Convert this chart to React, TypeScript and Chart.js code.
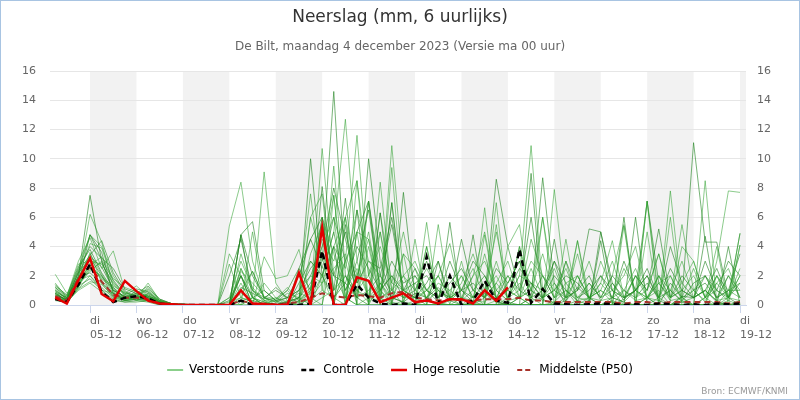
import React, { useEffect, useRef } from 'react';
import { Chart, registerables } from 'chart.js';

Chart.register(...registerables);

// ---- axis categories ----
const dayNames = ['di', 'wo', 'do', 'vr', 'za', 'zo', 'ma', 'di', 'wo', 'do', 'vr', 'za', 'zo', 'ma', 'di'];
const dayDates = ['05-12', '06-12', '07-12', '08-12', '09-12', '10-12', '11-12', '12-12', '13-12', '14-12', '15-12', '16-12', '17-12', '18-12', '19-12'];
const yTicks = [0, 2, 4, 6, 8, 10, 12, 14, 16];
const firstHour = 6; // first value: 04-12 06 uur (hours since 04-12 00 uur)
const stepHours = 6;

// ---- series (mm per 6 uur) ----
const hogeResolutie = [0.5, 0.1, 1.7, 3.2, 0.75, 0.25, 1.65, 0.95, 0.3, 0.1, 0.05, 0, 0, 0, 0, 0, 1.0, 0.1, 0.05, 0, 0, 2.2, 0, 5.3, 0, 0, 1.9, 1.65, 0.2, 0.5, 0.8, 0.2, 0.3, 0.1, 0.4, 0.4, 0.1, 1.0, 0.3, 1.2];
const controle = [0.4, 0.2, 1.4, 2.8, 0.9, 0.2, 0.5, 0.6, 0.45, 0.1, 0, 0, 0, 0, 0, 0, 0.3, 0, 0, 0, 0, 0, 0.1, 3.7, 0, 0, 1.4, 0.5, 0.1, 0, 0.1, 0, 3.3, 0.05, 2.0, 0, 0.3, 1.65, 0.3, 0.15, 3.8, 0.15, 1.1, 0.1, 0.05, 0, 0.05, 0.1, 0.05, 0, 0.05, 0, 0.1, 0.05, 0, 0.05, 0, 0.1, 0.05, 0.1];
const middelste = [0.6, 0.3, 1.8, 2.6, 1.6, 0.7, 0.5, 0.5, 0.4, 0.1, 0.05, 0, 0, 0, 0, 0, 0.3, 0.1, 0.1, 0.05, 0.1, 0.2, 0.5, 0.8, 0.6, 0.5, 0.7, 0.6, 0.5, 0.8, 0.9, 0.5, 0.4, 0.3, 0.4, 0.3, 0.3, 0.4, 0.4, 0.4, 0.5, 0.3, 0.3, 0.2, 0.2, 0.2, 0.2, 0.2, 0.2, 0.1, 0.2, 0.2, 0.1, 0.2, 0.2, 0.2, 0.2, 0.2, 0.1, 0.2];

const m01 = [0.8, 0.3, 2.0, 7.5, 3.0, 1.0, 0.6, 0.8, 0.5, 0.2, 0.1, 0, 0, 0, 0, 0, 0.3, 0.1, 0, 0, 0.2, 0.5, 1.5, 3.0, 14.6, 2.0, 0.5, 1.0, 2.0, 0.5, 0.2, 0.8, 0.5, 1.2, 0.3, 0, 0.2, 0.8, 0.2, 0, 0.5, 1.5, 0.4, 0, 0.3, 1.2, 0.5, 0, 0, 0.4, 1.0, 2.0, 0.3, 0, 0.6, 0.5, 1.0, 0.2, 0, 0];
const m02 = [0.5, 0.2, 1.8, 6.2, 4.3, 1.2, 0.5, 0.6, 0.4, 0.1, 0, 0, 0, 0, 0, 0, 0, 0.5, 9.1, 1.5, 0.3, 0, 0.5, 2.0, 5.0, 12.7, 3.0, 0.5, 1.0, 0.2, 0, 0.3, 1.0, 0.2, 0, 0, 0, 0.5, 1.5, 3.0, 0.5, 0, 0, 0.2, 0, 0, 0, 0, 0, 1.0, 2.5, 0.5, 0, 0, 0.3, 1.0, 0.2, 0, 0.5, 2.0];
const m03 = [1.0, 0.5, 2.5, 4.8, 4.0, 2.0, 0.8, 0.5, 1.5, 0.3, 0.1, 0, 0, 0, 0, 5.4, 8.4, 3.0, 0.5, 0.2, 0, 0, 0, 0.5, 1.0, 3.0, 11.6, 2.0, 0.5, 0, 0.3, 1.5, 0.5, 0, 0, 0, 0.6, 0, 0, 0.5, 2.0, 10.9, 1.0, 0, 0, 0, 0.5, 1.0, 0.2, 0, 0, 0, 0.5, 2.0, 0.3, 0, 0, 0, 1.0, 0.5];
const m04 = [0.6, 0.2, 1.5, 4.8, 3.6, 0.8, 0.3, 0.4, 0.3, 0.1, 0, 0, 0, 0, 0, 0, 4.8, 5.7, 1.0, 0.3, 0.5, 0.2, 10.0, 2.0, 0.5, 1.5, 0.5, 10.0, 3.0, 0.5, 0.2, 0, 0.5, 0, 0.3, 1.0, 0.2, 0, 0, 0, 0, 0.5, 8.7, 1.5, 0, 0, 0, 0, 0.5, 0.2, 0, 0, 0, 1.5, 0.5, 11.1, 4.3, 4.3, 0.5, 0];
const m05 = [1.2, 0.6, 3.0, 4.6, 2.5, 3.7, 1.0, 0.3, 0.8, 0.2, 0, 0, 0, 0, 0, 3.5, 2.0, 0.5, 0.2, 0, 0, 0, 0.5, 10.7, 2.0, 0.5, 1.0, 0.2, 8.4, 1.0, 0, 0, 0, 5.5, 0.5, 0, 0, 0, 0.3, 0, 0, 0.5, 0, 7.9, 1.0, 0, 0, 0, 0.2, 0, 0, 0.5, 1.0, 0, 0, 0, 0, 2.0, 0.5, 4.9];
const m06 = [0.4, 0.1, 1.2, 3.6, 1.5, 0.5, 0.3, 0.5, 0.6, 0.2, 0, 0, 0, 0, 0, 0, 2.5, 0.5, 0, 0, 0, 1.0, 7.6, 1.0, 9.5, 0.5, 0, 0.5, 0.3, 10.9, 2.0, 0, 0.3, 0, 0, 0, 0, 4.8, 0.5, 0, 0, 0, 0, 0, 0.5, 4.4, 0.5, 0, 0, 0, 0, 7.1, 0.5, 0, 0, 0, 0.5, 0, 0.3, 0];
const m07 = [0.7, 0.4, 2.2, 3.2, 2.0, 0.6, 0.4, 1.0, 0.5, 0.1, 0, 0, 0, 0, 0, 0, 4.8, 0.5, 0, 0, 0, 0, 0, 8.1, 1.0, 7.3, 0.5, 0, 0, 0, 7.7, 0.5, 0, 0, 0, 0, 0, 0, 0, 0.2, 0, 0, 0, 0, 0, 0, 0, 5.0, 1.0, 0, 6.0, 0, 0, 0, 0, 0, 4.7, 0, 0, 0.3];
const m08 = [2.1, 0.8, 1.6, 2.8, 1.8, 1.2, 0.5, 0.6, 1.2, 0.3, 0.1, 0, 0, 0, 0, 0, 0, 5.0, 0.3, 0, 0.2, 0, 6.0, 7.6, 0.5, 0, 8.5, 0.2, 1.0, 0, 0, 0, 5.65, 0, 0, 0, 0, 6.65, 0, 0, 0.5, 0, 0, 0, 0, 0, 0, 0, 0.3, 0, 0, 0, 0, 7.8, 0.5, 0, 0.5, 4.0, 0, 0];
const m09 = [0.5, 0.3, 1.4, 2.5, 2.0, 1.0, 0.6, 0.3, 0.4, 0.1, 0, 0, 0, 0, 0, 0, 1.5, 0, 3.3, 1.8, 2.0, 3.8, 0.5, 0, 7.5, 0.5, 0, 7.1, 0.5, 0, 0, 0, 0, 0, 0, 0.5, 0, 0, 7.0, 0, 0, 0, 0, 0, 0, 0.3, 0, 0, 0, 5.4, 0, 0, 0, 0, 0.5, 0, 8.5, 0.2, 0, 0];
const m10 = [0.9, 0.5, 1.9, 2.2, 1.5, 0.8, 0.4, 0.5, 0.7, 0.2, 0, 0, 0, 0, 0, 0.3, 2.0, 0, 0, 0, 0, 2.5, 4.5, 6.0, 0, 5.5, 0, 0, 6.3, 0, 0, 0, 0, 0, 5.65, 0, 0, 0, 0, 0, 0, 9.0, 0, 0, 0, 0, 0, 4.4, 0, 0, 0, 0.5, 0, 0, 0.2, 0, 0, 0, 0, 0];
const m11 = [0.3, 0.2, 1.1, 2.0, 1.2, 0.5, 0.3, 0.4, 0.3, 0.2, 0, 0, 0, 0, 0, 2.8, 0.5, 2.3, 0.5, 0, 0, 0, 3.5, 5.5, 0, 6.0, 0, 0, 0, 9.4, 0, 0, 0, 0, 0, 0, 0, 0, 0, 4.0, 5.5, 0, 0, 0, 4.5, 0, 0, 0, 0, 0, 0, 0, 0, 0, 0, 0, 0, 3.0, 7.8, 7.7];
const m12 = [0.6, 0.4, 1.7, 2.0, 1.0, 0.8, 0.5, 0.8, 1.0, 0.3, 0, 0, 0, 0, 0, 0, 0.5, 0.2, 1.5, 0.5, 0, 0, 1.0, 4.0, 6.0, 0, 5.0, 0, 5.0, 0, 0, 4.5, 0, 0, 0, 3.0, 0, 0, 0, 0, 0, 0, 6.0, 0, 3.0, 0, 0, 0, 0, 0, 0, 5.0, 0, 0, 0, 0, 0, 0, 0, 4.1];
const m13 = [0.8, 0.3, 1.3, 1.8, 1.0, 0.4, 0.2, 0.3, 0.2, 0, 0, 0, 0, 0, 0, 0, 2.0, 0, 0, 0, 0, 0, 0, 0, 4.0, 0, 6.5, 0, 0, 7.0, 0, 0, 0, 3.0, 0, 0, 4.8, 0, 0, 0, 0, 0, 0, 4.5, 0, 0, 0, 0, 0, 6.0, 0, 0, 0, 0, 0, 0, 0, 0, 4.0, 0];
const m14 = [1.5, 0.5, 2.8, 3.0, 2.8, 1.5, 0.8, 1.3, 0.6, 0.2, 0, 0, 0, 0, 0, 0, 0, 0, 0, 0, 0, 0.5, 0, 0, 0, 0, 5.0, 4.5, 0, 0, 3.5, 0, 4.0, 0, 0, 0, 0, 0, 5.5, 0, 4.0, 0, 0, 0, 0, 4.4, 0, 0, 0, 0, 0, 0, 0, 6.0, 0, 0, 0, 0, 0, 0];
const m15 = [0.4, 0.2, 1.0, 1.5, 0.9, 0.3, 0.2, 0.2, 0.3, 0, 0, 0, 0, 0, 0, 0, 0, 0, 0, 0, 0, 0, 0, 2.0, 0, 3.0, 0, 0, 1.5, 0, 0, 0, 0, 0, 0, 0, 0, 0, 0, 0, 0, 0, 0, 0, 0, 0, 0, 0, 0, 0, 0, 7.1, 0, 0, 0, 0, 0, 0, 0, 0];
const m16 = [1.1, 0.4, 2.3, 3.4, 4.4, 2.2, 0.9, 0.6, 1.1, 0.4, 0.1, 0.1, 0, 0, 0, 0, 1.2, 0.8, 0.4, 1.2, 0.5, 1.0, 2.5, 3.5, 2.0, 1.5, 4.0, 2.5, 1.0, 3.0, 1.5, 2.0, 1.0, 0.5, 1.5, 2.5, 1.0, 2.0, 0.5, 1.0, 2.5, 1.5, 0.5, 2.0, 1.0, 0.3, 1.5, 0.5, 2.0, 1.0, 0.5, 1.5, 0.5, 2.5, 1.0, 0.5, 3.0, 1.0, 0.5, 1.5];
const m17 = [0.7, 0.3, 1.6, 2.7, 3.3, 1.8, 1.2, 0.9, 0.6, 0.3, 0.1, 0, 0, 0, 0, 0, 2.3, 1.5, 0.6, 0.4, 1.0, 0.3, 1.2, 4.5, 3.0, 6.0, 2.0, 4.5, 1.5, 0.5, 2.0, 1.0, 2.5, 1.0, 0.3, 1.5, 3.5, 1.0, 2.0, 0.5, 1.0, 3.0, 2.0, 1.0, 2.5, 0.5, 0.3, 3.0, 1.0, 0.5, 2.0, 1.0, 3.5, 0.5, 1.0, 2.0, 0.5, 1.5, 2.5, 0.5];
const m18 = [0.9, 0.2, 1.3, 2.4, 2.9, 1.4, 0.7, 0.5, 0.4, 0.2, 0, 0, 0, 0, 0, 0.5, 3.0, 1.2, 0.3, 0.2, 0.8, 0.5, 2.0, 1.5, 4.0, 2.5, 6.5, 3.0, 2.0, 1.0, 0.5, 2.0, 0.5, 1.5, 1.0, 0.3, 2.0, 3.0, 1.0, 2.0, 0.5, 1.0, 3.5, 0.5, 1.5, 2.0, 0.5, 1.0, 0.5, 2.5, 1.0, 0.3, 2.0, 1.0, 3.0, 0.5, 1.0, 0.3, 2.0, 1.0];
const m19 = [1.3, 0.7, 2.6, 3.8, 2.2, 1.0, 0.5, 0.7, 0.9, 0.2, 0, 0, 0, 0, 0, 0, 2.0, 0.5, 1.0, 0.3, 0, 1.5, 3.0, 2.0, 5.0, 1.0, 3.0, 6.5, 1.0, 2.0, 0.5, 1.0, 3.0, 0.5, 2.0, 1.0, 0.5, 1.5, 0.3, 1.5, 3.0, 0.5, 1.0, 3.0, 0.5, 1.0, 2.0, 0.3, 1.5, 0.5, 1.0, 2.0, 0.5, 1.0, 0.3, 1.5, 2.0, 0.5, 1.0, 3.5];
const m20 = [0.5, 0.3, 1.2, 2.9, 1.7, 0.7, 0.4, 0.4, 0.5, 0.1, 0, 0, 0, 0, 0, 0.2, 0.5, 0.3, 0.1, 0, 0.3, 0.8, 0.5, 1.5, 2.5, 3.5, 1.0, 2.0, 4.0, 1.5, 1.0, 0.5, 1.0, 2.0, 0.5, 0.3, 1.0, 0.5, 1.5, 0.5, 1.5, 0.3, 0.5, 1.0, 0.3, 2.0, 0.5, 1.5, 0.5, 1.0, 0.3, 0.5, 1.5, 0.3, 0.5, 1.0, 0.3, 1.5, 0.5, 2.0];
const m21 = [0.8, 0.5, 2.0, 4.2, 3.9, 1.6, 0.6, 0.5, 0.8, 0.3, 0, 0, 0, 0, 0, 0, 3.5, 1.0, 0.2, 0, 0, 0.3, 1.0, 6.0, 3.5, 1.0, 2.5, 0.5, 6.3, 1.5, 5.0, 1.0, 0.5, 2.0, 4.2, 0.5, 2.0, 5.0, 1.0, 0.3, 4.0, 1.0, 6.0, 1.0, 0.5, 3.5, 0.3, 1.5, 4.4, 0.5, 1.0, 0.5, 2.0, 0.3, 4.0, 3.0, 0.5, 1.0, 0.3, 4.1];
const m22 = [1.0, 0.4, 1.9, 3.3, 2.6, 1.1, 0.5, 0.6, 0.5, 0.2, 0, 0, 0, 0, 0, 0, 1.0, 2.3, 0.5, 0.2, 0.5, 2.0, 4.5, 2.5, 6.0, 3.0, 5.0, 7.1, 2.0, 5.5, 1.0, 0.5, 1.5, 3.0, 0.5, 4.5, 1.0, 0.5, 8.6, 4.0, 1.0, 0.5, 2.0, 0.5, 3.0, 1.0, 5.2, 5.0, 1.5, 0.3, 2.0, 1.0, 5.2, 0.5, 2.0, 1.0, 1.5, 0.5, 2.0, 0.5];
const m23 = [0.6, 0.3, 1.5, 2.3, 3.0, 0.9, 0.4, 0.5, 0.6, 0.1, 0, 0, 0, 0, 0, 0, 0.8, 0.3, 0.1, 0, 0.2, 0.5, 6.0, 3.0, 7.5, 0.5, 2.0, 5.0, 0.5, 1.0, 3.5, 2.5, 0.3, 1.0, 0.5, 2.0, 0.5, 1.0, 5.0, 1.0, 0.5, 4.5, 2.0, 0.5, 1.0, 0.5, 1.5, 0.5, 2.0, 5.5, 0.5, 1.0, 3.5, 0.5, 5.5, 1.0, 2.0, 0.5, 1.0, 1.5];
const m24 = [0.4, 0.2, 1.1, 1.6, 1.4, 0.6, 0.3, 0.4, 0.3, 0.1, 0, 0, 0, 0, 0, 0, 0.3, 0.5, 0.2, 0, 0, 0.2, 0.3, 1.0, 0.5, 2.0, 1.0, 0.5, 1.5, 0.3, 1.0, 0.5, 0.2, 1.0, 0.3, 0.5, 0.3, 0.2, 1.0, 0.3, 0.5, 1.0, 0.3, 0.2, 1.0, 0.3, 0.5, 0.3, 0.5, 0.2, 1.0, 0.5, 0.3, 1.0, 0.2, 0.5, 1.0, 0.3, 0.5, 0.3];
const m25 = [1.4, 0.6, 2.4, 4.0, 3.2, 2.5, 1.1, 0.8, 1.3, 0.4, 0.1, 0, 0, 0, 0, 2.0, 4.5, 1.0, 0.5, 1.0, 0.5, 1.0, 2.0, 4.0, 8.0, 4.5, 1.5, 3.0, 2.5, 6.0, 1.0, 2.5, 1.0, 0.5, 3.0, 1.0, 3.0, 2.0, 0.5, 2.0, 1.0, 6.0, 0.5, 3.0, 1.5, 0.5, 1.0, 2.0, 0.5, 3.0, 1.0, 2.5, 0.5, 4.0, 1.5, 0.5, 2.0, 1.0, 3.0, 2.0];
const m26 = [0.7, 0.4, 1.8, 3.5, 2.1, 0.8, 0.4, 0.6, 0.7, 0.2, 0, 0, 0, 0, 0, 0, 2.5, 1.0, 0.3, 0.5, 0.2, 0.5, 3.0, 2.0, 4.0, 6.0, 8.5, 2.0, 5.0, 1.0, 2.0, 3.0, 1.0, 2.0, 0.5, 1.0, 2.5, 0.5, 3.0, 0.5, 2.0, 1.5, 1.0, 2.5, 0.5, 2.0, 0.5, 1.0, 3.0, 0.5, 2.0, 0.5, 1.5, 2.0, 0.5, 2.5, 0.5, 2.0, 1.0, 1.0];
const m27 = [0.5, 0.1, 1.4, 2.6, 1.9, 1.3, 0.8, 0.7, 0.6, 0.3, 0.1, 0, 0, 0, 0, 0.5, 0, 0.5, 0, 0.4, 1.2, 0.3, 0.8, 5.5, 1.0, 2.0, 0.5, 4.0, 0.5, 7.0, 0.5, 0.5, 4.0, 0.5, 1.0, 2.0, 0.5, 3.5, 0.5, 1.0, 0.5, 2.5, 0.5, 1.5, 0.5, 1.0, 3.0, 0.5, 1.0, 2.0, 4.0, 0.5, 2.0, 0.5, 1.5, 3.0, 0.5, 2.0, 0.5, 2.5];
const m28 = [1.2, 0.5, 2.2, 4.8, 3.1, 1.7, 0.7, 1.1, 0.9, 0.3, 0.1, 0, 0, 0, 0, 0, 4.8, 2.0, 0.5, 0.3, 1.0, 2.5, 1.0, 6.0, 2.0, 5.0, 1.5, 7.1, 1.0, 2.0, 1.0, 1.5, 2.0, 1.0, 0.5, 1.0, 1.5, 0.5, 2.5, 1.5, 3.0, 1.0, 0.5, 1.0, 2.0, 1.5, 0.5, 2.0, 1.0, 0.5, 1.0, 7.1, 1.5, 0.5, 1.0, 0.5, 1.0, 2.5, 0.5, 4.9];

const verstoordeRuns = [m01, m02, m03, m04, m05, m06, m07, m08, m09, m10, m11, m12, m13, m14, m15, m16, m17, m18, m19, m20, m21, m22, m23, m24, m25, m26, m27, m28];

const FONT = '"DejaVu Sans", sans-serif';
const titleText = 'Neerslag (mm, 6 uurlijks)';
const subtitleText = 'De Bilt, maandag 4 december 2023 (Versie ma 00 uur)';
const sourceText = 'Bron: ECMWF/KNMI';

const toPoints = (arr: number[]) => arr.map((v, i) => ({ x: firstHour + i * stepHours, y: v }));

const decorPlugin = {
  id: 'decor',
  beforeDraw(chart: any) {
    const { ctx, chartArea: a, scales } = chart;
    const x = scales.x;
    ctx.save();
    ctx.fillStyle = '#ffffff';
    ctx.fillRect(0, 0, chart.width, chart.height);
    ctx.fillStyle = '#f2f2f2';
    dayDates.forEach((_, k) => {
      if (k % 2 !== 0) return;
      const x0 = x.getPixelForValue(24 * (k + 1));
      const x1 = x.getPixelForValue(24 * (k + 2));
      const l = Math.max(x0, a.left);
      const r = Math.min(x1, a.right);
      if (r > l) ctx.fillRect(l, a.top, r - l, a.bottom - a.top);
    });
    ctx.restore();
  },
  afterDraw(chart: any) {
    const { ctx } = chart;
    ctx.save();
    ctx.textAlign = 'center';
    ctx.textBaseline = 'middle';
    ctx.fillStyle = '#333333';
    ctx.font = '17px ' + FONT;
    ctx.fillText(titleText, 400, 18);
    ctx.fillStyle = '#666666';
    ctx.font = '12px ' + FONT;
    ctx.fillText(subtitleText, 400, 47);
    ctx.textAlign = 'right';
    ctx.fillStyle = '#999999';
    ctx.font = '9px ' + FONT;
    ctx.fillText(sourceText, 788, 392);
    ctx.strokeStyle = '#a8c4e2';
    ctx.lineWidth = 1;
    ctx.strokeRect(0.5, 0.5, chart.width - 1, chart.height - 1);
    ctx.restore();
  },
};

export default function App() {
  const ref = useRef<HTMLCanvasElement>(null);
  useEffect(() => {
    const canvas = ref.current;
    if (!canvas) return;
    const greens = verstoordeRuns.map((m, k) => ({
      label: 'Verstoorde run ' + (k + 1),
      data: toPoints(m),
      borderColor: k % 3 === 0 ? 'rgba(30,130,30,0.6)' : 'rgba(45,160,45,0.55)',
      borderWidth: 1,
      pointRadius: 0,
      tension: 0,
    }));
    const chart = new Chart(canvas, {
      type: 'line',
      data: {
        datasets: [
          { label: 'Hoge resolutie', data: toPoints(hogeResolutie), borderColor: '#e30000', borderWidth: 2.5, pointRadius: 0, tension: 0 },
          { label: 'Controle', data: toPoints(controle), borderColor: '#000000', borderWidth: 2.5, borderDash: [6, 4], pointRadius: 0, tension: 0 },
          { label: 'Middelste (P50)', data: toPoints(middelste), borderColor: '#a8322a', borderWidth: 2, borderDash: [6, 4], pointRadius: 0, tension: 0 },
          ...greens,
        ] as any,
      },
      options: {
        animation: false,
        responsive: false,
        layout: { padding: { top: 71, bottom: 14, left: 0, right: 0 } },
        plugins: {
          title: { display: false },
          tooltip: { enabled: false },
          legend: {
            position: 'bottom',
            onClick: () => {},
            labels: {
              usePointStyle: true,
              pointStyleWidth: 16,
              padding: 17,
              color: '#333333',
              font: { size: 12, family: FONT },
              generateLabels: () => [
                { text: 'Verstoorde runs', strokeStyle: 'rgba(110,195,110,0.8)', fillStyle: 'rgba(0,0,0,0)', lineWidth: 2, lineDash: [], pointStyle: 'line', hidden: false, datasetIndex: 3 },
                { text: 'Controle', strokeStyle: '#000000', fillStyle: 'rgba(0,0,0,0)', lineWidth: 2.5, lineDash: [5, 3], pointStyle: 'line', hidden: false, datasetIndex: 1 },
                { text: 'Hoge resolutie', strokeStyle: '#e30000', fillStyle: 'rgba(0,0,0,0)', lineWidth: 2.5, lineDash: [], pointStyle: 'line', hidden: false, datasetIndex: 0 },
                { text: 'Middelste (P50)', strokeStyle: '#a8322a', fillStyle: 'rgba(0,0,0,0)', lineWidth: 2, lineDash: [5, 3], pointStyle: 'line', hidden: false, datasetIndex: 2 },
              ] as any,
            },
          },
        },
        scales: {
          x: {
            type: 'linear',
            min: 3.3,
            max: 363.1,
            afterBuildTicks: (s: any) => {
              s.ticks = dayDates.map((_, k) => ({ value: 24 * (k + 1) }));
            },
            afterFit: (s: any) => { s.height = 42; },
            ticks: {
              autoSkip: false,
              maxRotation: 0,
              align: 'start',
              padding: 1,
              color: '#666666',
              font: { size: 11, family: FONT, lineHeight: 1.3 },
              callback: (_v: any, i: number) => [dayNames[i], dayDates[i]],
            },
            grid: { drawOnChartArea: false, drawTicks: true, tickLength: 8, color: '#ccd6eb' },
            border: { display: true, color: '#ccd6eb' },
          },
          y: {
            position: 'left',
            min: 0,
            max: 16,
            afterBuildTicks: (s: any) => { s.ticks = yTicks.map((v) => ({ value: v })); },
            afterFit: (s: any) => { s.width = 50; },
            ticks: { padding: 14, color: '#666666', font: { size: 11, family: FONT } },
            grid: { color: '#e6e6e6', drawTicks: false },
            border: { display: false },
          },
          y2: {
            position: 'right',
            min: 0,
            max: 16,
            afterBuildTicks: (s: any) => { s.ticks = yTicks.map((v) => ({ value: v })); },
            afterFit: (s: any) => { s.width = 54; },
            ticks: { padding: 11, color: '#666666', font: { size: 11, family: FONT } },
            grid: { display: false, drawTicks: false },
            border: { display: false },
          },
        },
      } as any,
      plugins: [decorPlugin],
    });
    return () => chart.destroy();
  }, []);
  return (
    <div style={{ position: 'fixed', left: 0, top: 0, width: 800, height: 400 }}>
      <canvas ref={ref} width={800} height={400} style={{ width: 800, height: 400, display: 'block' }} />
    </div>
  );
}
